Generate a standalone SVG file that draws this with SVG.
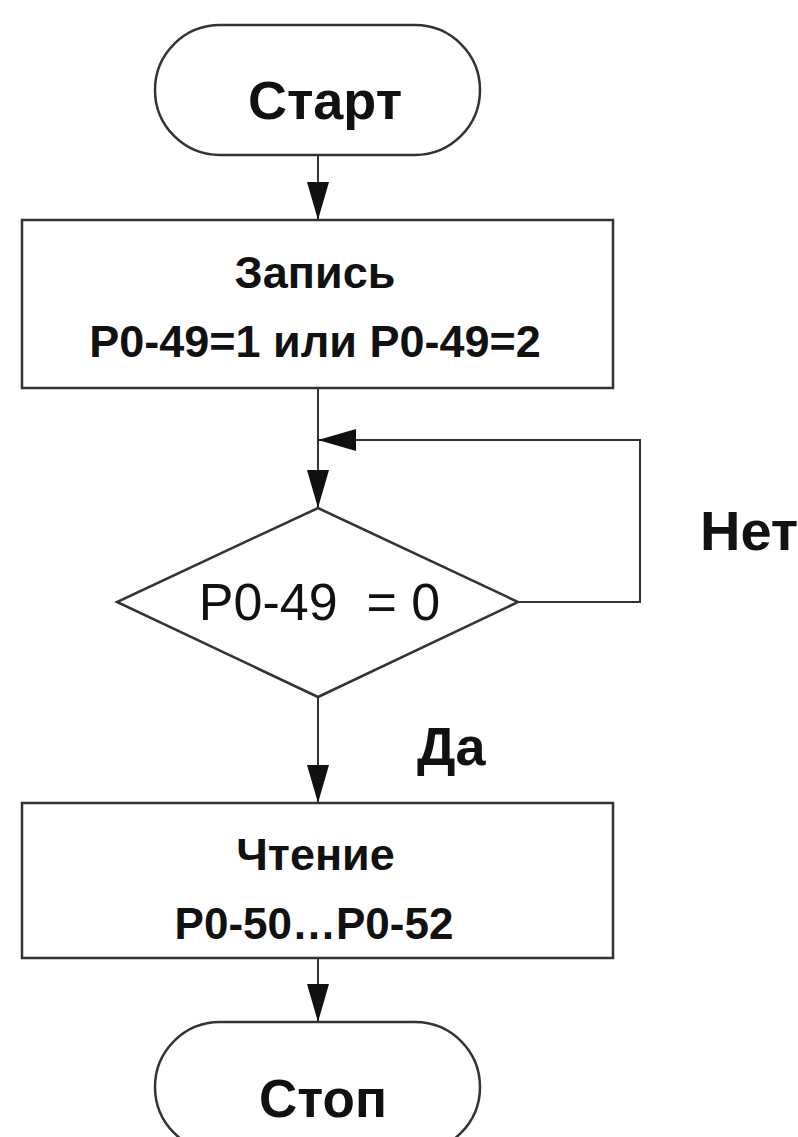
<svg xmlns="http://www.w3.org/2000/svg" width="798" height="1137" viewBox="0 0 798 1137">
<style>
.shape{fill:#fff;stroke:#333;stroke-width:2.5}
.conn{fill:none;stroke:#333;stroke-width:2}
text{font-family:"Liberation Sans",Arial,sans-serif;fill:#111}
.b{font-weight:bold}
</style>
<defs>
<marker id="arr" markerUnits="userSpaceOnUse" markerWidth="38" markerHeight="22" refX="38" refY="11" orient="auto">
<path d="M0,0 L38,11 L0,22 Z" fill="#111"/>
</marker>
</defs>
<rect width="798" height="1137" fill="#fff"/>
<g id="connectors">
<line class="conn" x1="318" y1="155" x2="318" y2="220" marker-end="url(#arr)"/>
<line class="conn" x1="318" y1="388" x2="318" y2="508" marker-end="url(#arr)"/>
<polyline class="conn" points="518,602 640,602 640,440 318,440" marker-end="url(#arr)"/>
<line class="conn" x1="318" y1="697" x2="318" y2="803" marker-end="url(#arr)"/>
<line class="conn" x1="318" y1="958" x2="318" y2="1022" marker-end="url(#arr)"/>
<text class="b" x="700" y="550" font-size="56">Нет</text>
<text class="b" x="417" y="765" font-size="54">Да</text>
</g>
<g id="start">
<rect class="shape" x="155" y="25" width="325" height="130" rx="65" ry="65"/>
<text class="b" x="325" y="119" font-size="54" text-anchor="middle">Старт</text>
</g>
<g id="write">
<rect class="shape" x="22" y="220" width="591" height="168"/>
<text class="b" x="315" y="288" font-size="45" text-anchor="middle">Запись</text>
<text class="b" x="315" y="357" font-size="45" text-anchor="middle">P0-49=1 или P0-49=2</text>
</g>
<g id="decision">
<polygon class="shape" points="318,508 518,602 318,697 117,602"/>
<text x="319.5" y="620" font-size="52" text-anchor="middle" style="white-space:pre">P0-49  = 0</text>
</g>
<g id="read">
<rect class="shape" x="22" y="803" width="591" height="155"/>
<text class="b" x="315.5" y="870" font-size="45" text-anchor="middle">Чтение</text>
<text class="b" x="314" y="939" font-size="44" text-anchor="middle">P0-50…P0-52</text>
</g>
<g id="stop">
<rect class="shape" x="155" y="1022" width="325" height="130" rx="65" ry="65"/>
<text class="b" x="323" y="1117" font-size="53" text-anchor="middle">Стоп</text>
</g>
</svg>
